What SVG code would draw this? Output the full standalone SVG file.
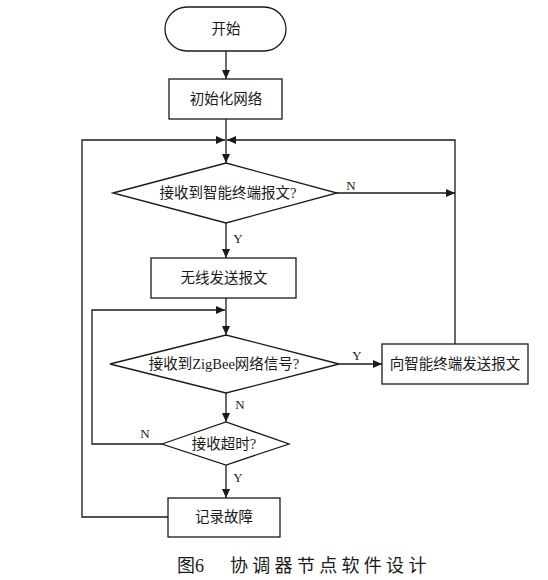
<svg xmlns="http://www.w3.org/2000/svg" width="548" height="580" viewBox="0 0 548 580">
<defs>
<style>
.shape{fill:#fff;stroke:#1a1a1a;stroke-width:1.3}
.conn{fill:none;stroke:#1a1a1a;stroke-width:1.3}
.t{font-family:"Liberation Serif","Noto Sans CJK SC",serif;font-size:14.5px;fill:#1a1a1a;text-anchor:middle}
.lbl{font-family:"Liberation Serif",serif;font-size:13px;fill:#1a1a1a;text-anchor:middle}
.cap{font-family:"Liberation Serif","Noto Sans CJK SC",serif;font-size:18px;fill:#1a1a1a}
</style>
<marker id="arr" markerUnits="userSpaceOnUse" markerWidth="10" markerHeight="8" refX="9" refY="4" orient="auto">
<path d="M0,0 L9,4 L0,8 Z" fill="#1a1a1a"/>
</marker>
</defs>
<rect width="548" height="580" fill="#fff"/>
<g id="connectors">
<path class="conn" d="M226,51 V79" marker-end="url(#arr)"/>
<path class="conn" d="M226,119 V163" marker-end="url(#arr)"/>
<path class="conn" d="M168,517 H82 V140 H225" marker-end="url(#arr)"/>
<path class="conn" d="M455,344 V140 H227" marker-end="url(#arr)"/>
<path class="conn" d="M337,193 H455" marker-end="url(#arr)"/>
<path class="conn" d="M226,223 V258" marker-end="url(#arr)"/>
<path class="conn" d="M226,298 V335" marker-end="url(#arr)"/>
<path class="conn" d="M162,444 H92 V310 H225" marker-end="url(#arr)"/>
<path class="conn" d="M339,364 H382" marker-end="url(#arr)"/>
<path class="conn" d="M226,393 V422" marker-end="url(#arr)"/>
<path class="conn" d="M226,465 V498" marker-end="url(#arr)"/>
<text class="lbl" x="351" y="190">N</text>
<text class="lbl" x="238" y="243">Y</text>
<text class="lbl" x="357" y="360">Y</text>
<text class="lbl" x="240" y="409">N</text>
<text class="lbl" x="145" y="438">N</text>
<text class="lbl" x="238" y="482">Y</text>
</g>
<g id="start">
<rect class="shape" x="165" y="7" width="121" height="44" rx="22" ry="22"/>
<text class="t" x="226" y="34">开始</text>
</g>
<g id="init">
<rect class="shape" x="169" y="79" width="113" height="40"/>
<text class="t" x="226" y="104">初始化网络</text>
</g>
<g id="decision1">
<polygon class="shape" points="113,193 226,163 337,193 226,223"/>
<text class="t" x="228" y="198">接收到智能终端报文?</text>
</g>
<g id="send">
<rect class="shape" x="151" y="258" width="145" height="40"/>
<text class="t" x="224" y="283">无线发送报文</text>
</g>
<g id="decision2">
<polygon class="shape" points="110,364 226,335 339,364 226,393"/>
<text class="t" x="224" y="369">接收到ZigBee网络信号?</text>
</g>
<g id="forward">
<rect class="shape" x="382" y="344" width="146" height="40"/>
<text class="t" x="455" y="369">向智能终端发送报文</text>
</g>
<g id="decision3">
<polygon class="shape" points="162,444 226,422 289,444 226,465"/>
<text class="t" x="224" y="449">接收超时?</text>
</g>
<g id="log">
<rect class="shape" x="168" y="498" width="112" height="39"/>
<text class="t" x="224" y="522">记录故障</text>
</g>
<g id="caption">
<text class="cap" x="177" y="572">图6</text>
<text class="cap" x="230" y="572" letter-spacing="4.3">协调器节点软件设计</text>
</g>
</svg>
